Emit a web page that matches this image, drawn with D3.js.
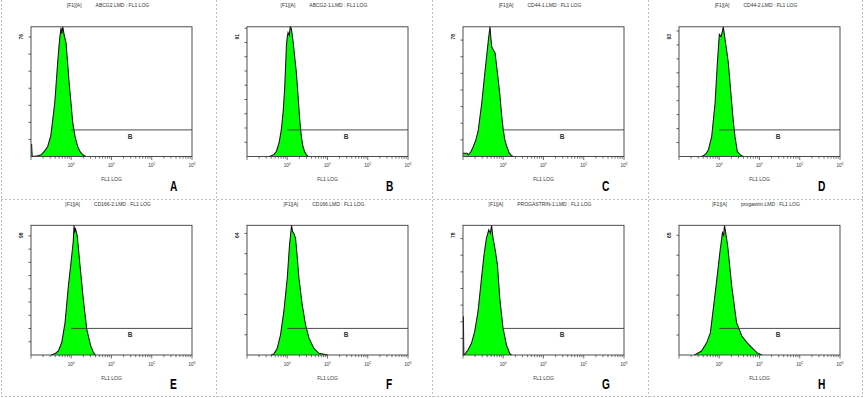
<!DOCTYPE html>
<html><head><meta charset="utf-8">
<script src="https://cdn.jsdelivr.net/npm/d3@7/dist/d3.min.js"></script>
<style>body{margin:0;background:#fff;}svg{display:block;}</style>
</head><body>
<svg id="c" width="864" height="398"></svg>
<script>
// ---- data (x = log10 of FL1 intensity, y = event count) ----
const panelLetters = ["A","B","C","D","E","F","G","H"];
const panelFiles = ["ABCG2.LMD","ABCG2-1.LMD","CD44-1.LMD","CD44-2.LMD","CD166-2.LMD","CD166.LMD","PROGASTRIN-1.LMD","progastrin.LMD"];
const panelMax = [76, 91, 78, 93, 98, 64, 78, 65];
const xTickLabels = ["0","1","2","3"];
const histA = [[-1.0,7],[-0.985,7],[-0.97,0],[-0.83,0.4],[-0.75,1],[-0.66,3.3],[-0.585,5.9],[-0.51,12],[-0.46,21.5],[-0.41,31.5],[-0.38,41],[-0.336,55.6],[-0.29,68.5],[-0.254,75.4],[-0.236,72],[-0.21,76],[-0.174,71],[-0.13,66.8],[-0.087,54],[-0.045,41],[0.0,30],[0.037,19.8],[0.1,11],[0.16,5.9],[0.22,2.8],[0.29,1],[0.36,0]];
const histB = [[-0.45,0],[-0.395,0.5],[-0.33,1.5],[-0.27,3.5],[-0.2,10],[-0.147,18.8],[-0.1,32],[-0.062,49],[-0.022,77],[0.0,84],[0.02,87],[0.05,85],[0.075,91],[0.10,90],[0.144,81],[0.185,70],[0.226,59],[0.27,42],[0.31,25.8],[0.35,14],[0.39,7],[0.43,3.5],[0.475,1.2],[0.52,0]];
const histC = [[-1.0,2],[-0.9,2],[-0.87,1],[-0.80,3],[-0.744,6],[-0.68,10],[-0.62,16],[-0.535,32],[-0.45,52],[-0.37,70],[-0.33,78],[-0.31,72],[-0.286,66],[-0.246,64],[-0.204,62.5],[-0.162,54],[-0.12,45],[-0.08,36],[-0.04,25],[0.0,16],[0.04,10],[0.087,6],[0.15,2],[0.21,0.4],[0.25,0]];
const histD = [[-0.45,0],[-0.395,0.5],[-0.33,2],[-0.27,4.8],[-0.187,14.4],[-0.104,38.4],[-0.047,67],[0.002,87.5],[0.045,86],[0.08,90],[0.10,93],[0.144,84],[0.185,76],[0.226,67],[0.27,52],[0.31,38.4],[0.35,25],[0.39,14.4],[0.45,3.6],[0.51,1.5],[0.56,0.5],[0.6,0]];
const histE = [[-0.5,0],[-0.445,0.5],[-0.38,1.5],[-0.32,3],[-0.236,9.4],[-0.154,24.5],[-0.072,52],[0.012,75],[0.05,86],[0.07,98],[0.085,92.5],[0.10,96],[0.15,90],[0.22,67],[0.30,42],[0.386,19.4],[0.485,6.8],[0.55,2],[0.6,0]];
const histF = [[-0.4,0],[-0.333,0.5],[-0.25,3.3],[-0.167,9.9],[-0.085,21.5],[0.0,38],[0.057,54.4],[0.107,64],[0.13,61],[0.164,60],[0.206,57.7],[0.25,48],[0.29,38],[0.373,24.7],[0.455,14.8],[0.54,8.3],[0.66,3.3],[0.786,0.8],[0.95,0.3],[1.0,0]];
const histG = [[-1.0,23],[-0.99,23],[-0.98,0],[-0.958,0.4],[-0.876,3],[-0.79,7],[-0.71,14.1],[-0.627,26.2],[-0.54,46.2],[-0.478,60.3],[-0.418,70.3],[-0.36,75.3],[-0.32,73],[-0.29,78],[-0.254,70.3],[-0.194,62.3],[-0.144,54.2],[-0.087,34.2],[-0.005,16.1],[0.08,6],[0.16,1],[0.204,0]];
const histH = [[-0.62,0],[-0.57,0.5],[-0.44,2],[-0.31,6.2],[-0.22,11.2],[-0.14,24.5],[-0.06,38],[0.025,53],[0.08,61.3],[0.11,60],[0.13,65],[0.16,61.3],[0.21,54.6],[0.31,34.6],[0.43,16.2],[0.56,9.5],[0.69,6.2],[0.81,3.7],[0.935,1.2],[1.06,0]];
const hists = [histA,histB,histC,histD,histE,histF,histG,histH];
const gateRange = [1, 1000];   // marker B (linear intensity)
const gateLevelFrac = 0.205;   // marker drawn at this fraction of the axis height

// ---- layout ----
const svg = d3.select("#c");
const PW = 216, PH = 198.5;
const L = 31, R = 192, T = 26.8, B = 156.5;
const font = "'Liberation Sans', Arial, sans-serif";

// panel borders (dashed)
const bx = [1.5, 216.5, 432.5, 648.5, 862.5];
const by = [199.5, 396.5];
bx.forEach(x => svg.append("line").attr("x1",x).attr("x2",x).attr("y1",0).attr("y2",397)
  .attr("stroke","#bdbdbd").attr("stroke-width",1).attr("stroke-dasharray","2,2"));
by.forEach(y => svg.append("line").attr("x1",1).attr("x2",863).attr("y1",y).attr("y2",y)
  .attr("stroke","#bdbdbd").attr("stroke-width",1).attr("stroke-dasharray","2,2"));

hists.forEach((h, i) => {
  const col = i % 4, row = Math.floor(i / 4);
  const g = svg.append("g").attr("transform", `translate(${col*PW},${row*PH})`);
  const x = d3.scaleLog().domain([0.1, 1000]).range([L, R]);
  const y = d3.scaleLinear().domain([0, panelMax[i]]).range([B, T]);

  // histogram
  const area = d3.area().x(d => x(Math.pow(10, d[0]))).y0(B).y1(d => y(d[1]));
  const line = d3.line().x(d => x(Math.pow(10, d[0]))).y(d => y(d[1]));
  g.append("path").attr("d", area(h)).attr("fill", "#00ff00").attr("stroke","none");
  g.append("path").attr("d", line(h)).attr("fill", "none").attr("stroke","#111").attr("stroke-width",1.05);

  // frame
  g.append("rect").attr("x",L).attr("y",T).attr("width",R-L).attr("height",B-T)
    .attr("fill","none").attr("stroke","#3a3a3a").attr("stroke-width",0.9);

  // y ticks every 10 counts
  d3.range(10, panelMax[i]+0.001, 10).forEach(v => {
    g.append("line").attr("x1",L-2.5).attr("x2",L).attr("y1",y(v)).attr("y2",y(v))
      .attr("stroke","#3a3a3a").attr("stroke-width",0.8);
  });
  // y max label
  g.append("text").attr("transform",`translate(${L-9.5},${T+10}) rotate(-90)`)
    .attr("text-anchor","middle").attr("dy","0.35em")
    .attr("font-family",font).attr("font-size",5).attr("font-weight","bold").attr("fill","#222")
    .text(panelMax[i]);

  // x log ticks
  const minor = [];
  for (let d = -1; d <= 2; d++) for (let k = 1; k <= 9; k++) minor.push(k*Math.pow(10,d));
  minor.push(1000);
  minor.forEach(v => {
    const major = Math.abs(Math.log10(v) - Math.round(Math.log10(v))) < 1e-9;
    g.append("line").attr("x1",x(v)).attr("x2",x(v)).attr("y1",B).attr("y2",B + (major?3.5:2.2))
      .attr("stroke","#3a3a3a").attr("stroke-width",0.7);
  });
  xTickLabels.forEach(e => {
    const t = g.append("text").attr("x", x(Math.pow(10,+e))).attr("y", B+10.5)
      .attr("text-anchor","middle").attr("font-family",font).attr("font-size",4.6).attr("fill","#333");
    t.append("tspan").text("10");
    t.append("tspan").attr("dy",-1.8).attr("font-size",3.4).text(e);
  });

  // gate marker B
  const gy = B - (B - T) * gateLevelFrac;
  g.append("line").attr("x1",x(gateRange[0])).attr("x2",x(gateRange[1])).attr("y1",gy).attr("y2",gy)
    .attr("stroke","#3a3a3a").attr("stroke-width",0.9);
  g.append("text").attr("x", x(Math.sqrt(gateRange[0]*gateRange[1])) - 1.5).attr("y", gy + 9)
    .attr("text-anchor","middle").attr("font-family",font).attr("font-size",6.5).attr("font-weight","bold").attr("fill","#333")
    .text("B");

  // title
  const tt = g.append("text").attr("x", 108).attr("y", 7).attr("text-anchor","middle")
    .attr("font-family",font).attr("font-size",5).attr("fill","#333");
  tt.append("tspan").text("[F1][A]");
  tt.append("tspan").attr("dx",14).text(panelFiles[i] + " : FL1 LOG");

  // x label
  g.append("text").attr("x",(L+R)/2).attr("y",181).attr("text-anchor","middle")
    .attr("font-family",font).attr("font-size",5).attr("fill","#333").text("FL1 LOG");

  // panel letter (condensed bold)
  g.append("text").attr("transform","translate(170,190.5) scale(0.68,1)")
    .attr("font-family",font)
    .attr("font-size",15).attr("font-weight","bold").attr("fill","#000").text(panelLetters[i]);
});
</script>
</body></html>
